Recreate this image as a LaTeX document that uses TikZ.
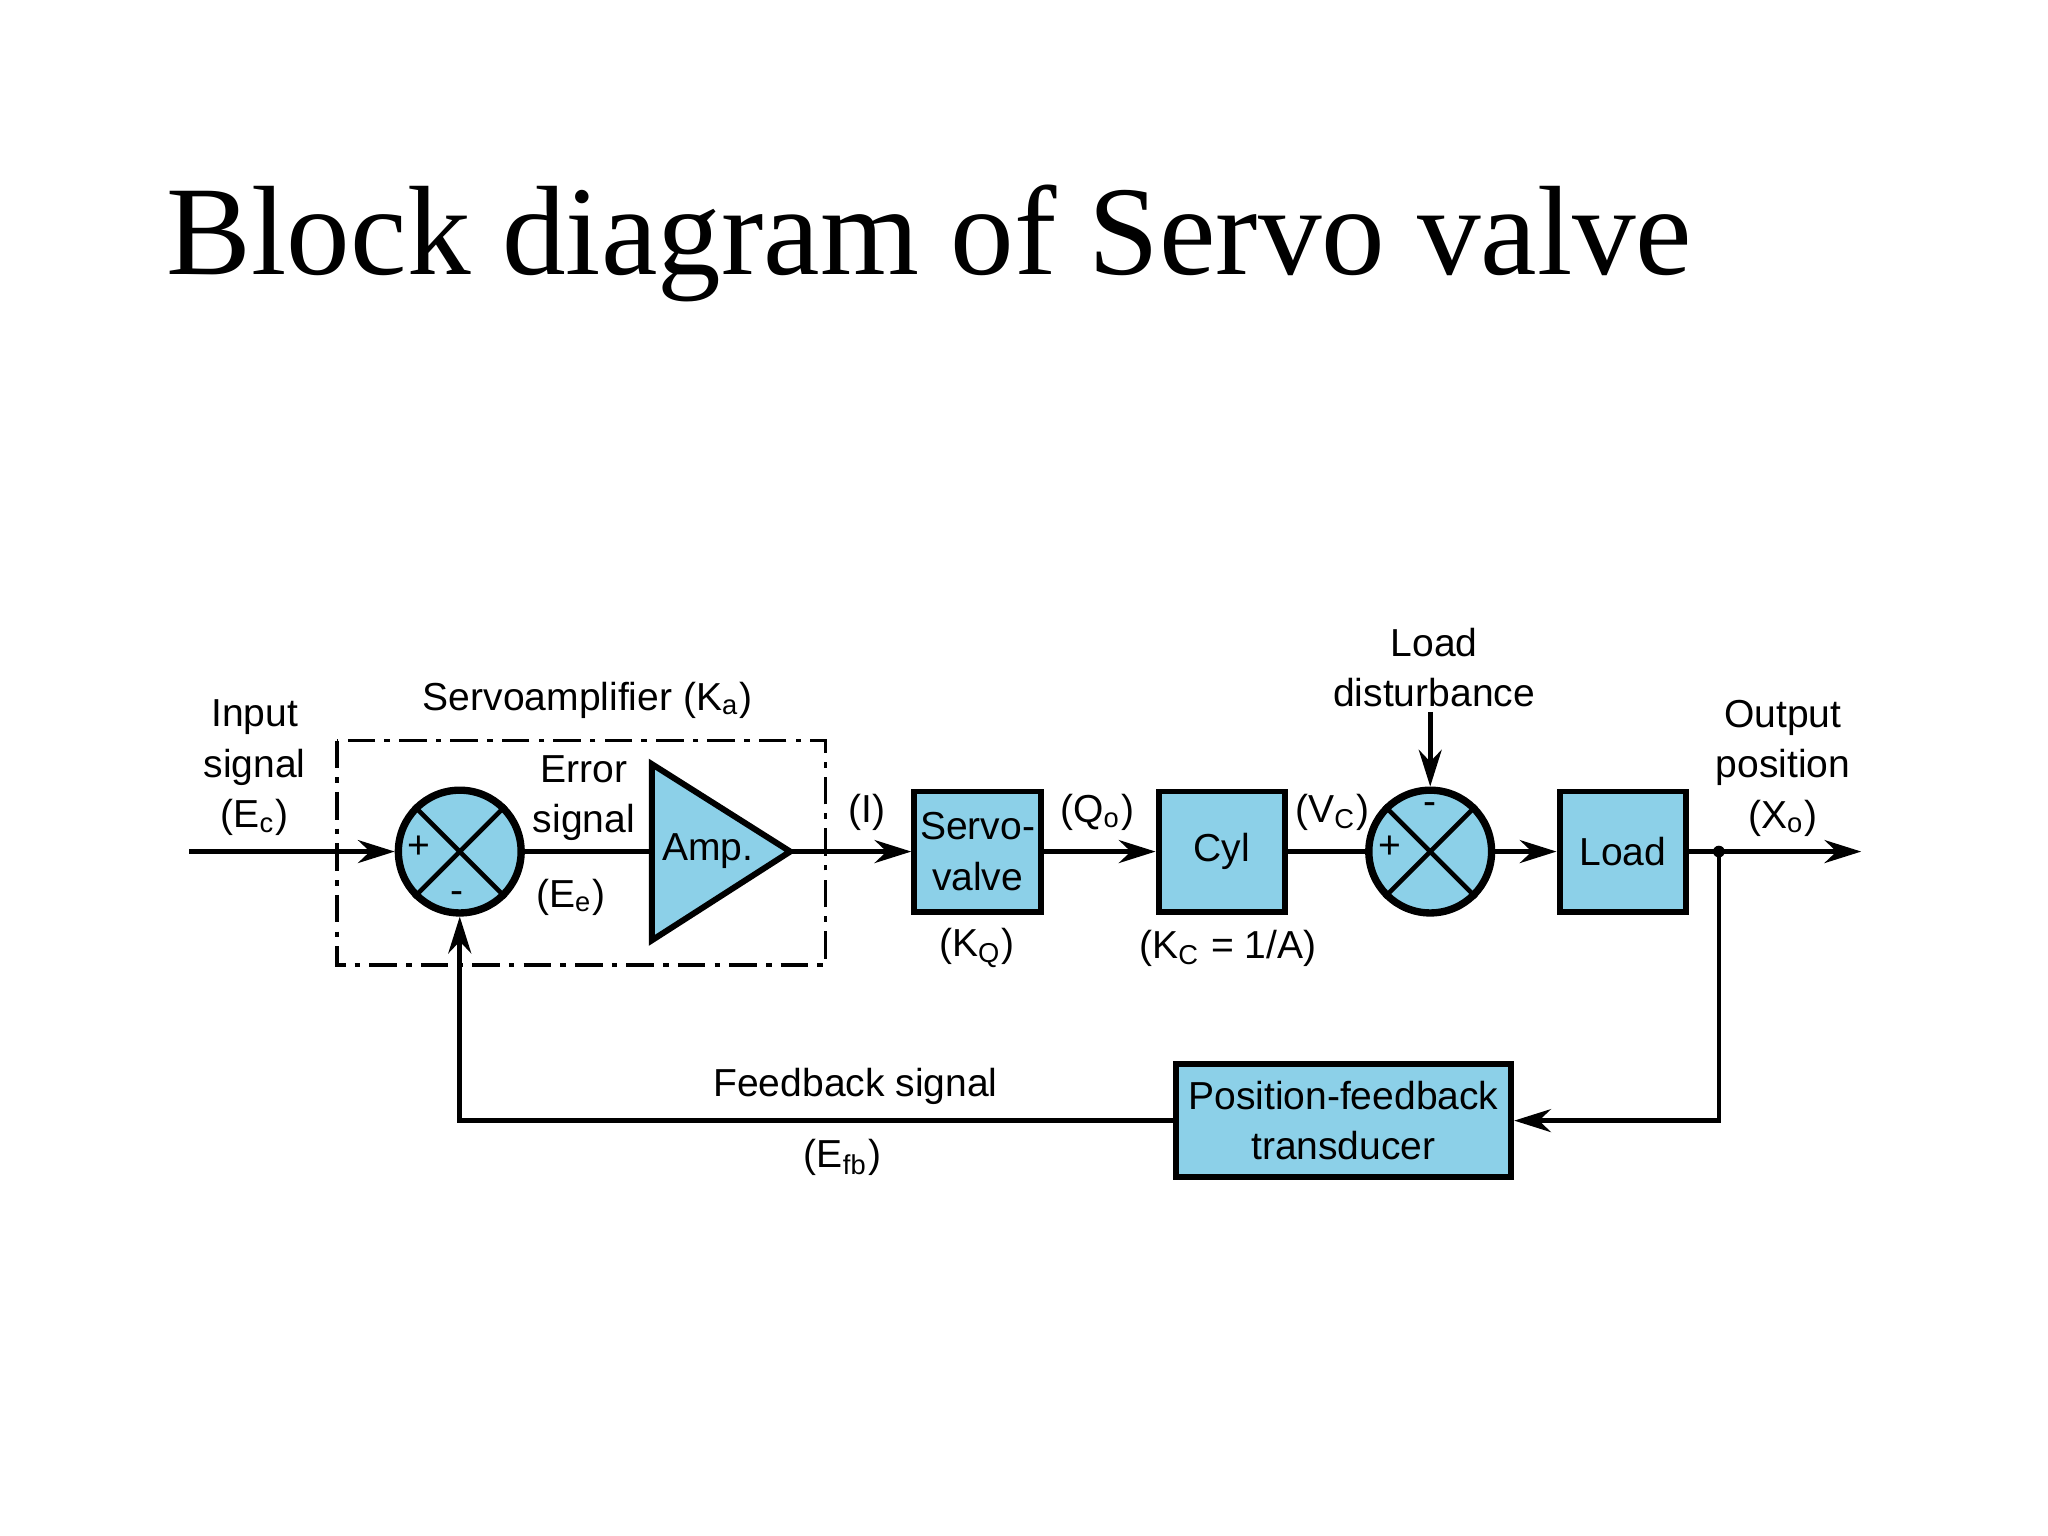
\documentclass[tikz,border=0pt]{standalone}
\usepackage{fontspec}
\setmainfont{Liberation Sans}
\newfontfamily\titlefont{Liberation Serif}
\usetikzlibrary{arrows.meta}
\definecolor{boxblue}{RGB}{140,208,232}
\tikzset{
  blk/.style={draw, line width=1.3pt, fill=boxblue, minimum width=0.97cm, minimum height=0.92cm, align=center, inner sep=1pt},
  sumj/.style={draw, circle, line width=1.6pt, fill=boxblue, minimum size=0.94cm, inner sep=0pt},
  sig/.style={line width=1pt, -{Stealth[length=8pt,width=5pt]}},
  lbl/.style={align=center, inner sep=1pt}
}
\begin{document}
\begin{tikzpicture}[font=\fontsize{8.5}{11}\selectfont]
\useasboundingbox (0,0) rectangle (15.68,11.76);
% title
\node[anchor=base west, inner sep=0pt, font=\titlefont\fontsize{27.7}{32}\selectfont] (title) at (1.27,9.66) {Block diagram of Servo valve};
% blocks
\coordinate (in) at (1.45,5.24);
\node[sumj] (s1) at (3.52,5.24) {};
\draw[line width=1pt] (s1.north west) -- (s1.south east) (s1.north east) -- (s1.south west);
\draw[line width=1.3pt, fill=boxblue] (4.99,5.91) -- (6.05,5.24) -- (4.99,4.56) -- cycle;
\coordinate (amp) at (6.05,5.24);
\node (ampt) at (5.42,5.24) {Amp.};
\node[blk] (sv) at (7.485,5.24) {Servo-\\valve};
\node[blk] (cyl) at (9.355,5.24) {Cyl};
\node[sumj] (s2) at (10.95,5.24) {};
\draw[line width=1pt] (s2.north west) -- (s2.south east) (s2.north east) -- (s2.south west);
\node[blk] (load) at (12.425,5.24) {Load};
\node[blk, minimum width=2.57cm, minimum height=0.87cm] (fb) at (10.285,3.18) {Position-feedback\\transducer};
\coordinate (out) at (14.25,5.24);
\coordinate (tap) at (13.16,5.24);
\coordinate (dist) at (10.95,6.31);
\fill (tap) circle (0.045);
% servoamplifier box
\draw[line width=0.8pt, dash pattern=on 6pt off 2pt on 1.2pt off 2pt] (2.58,6.09) rectangle (6.32,4.37);
% connectors
\draw[sig] (in) -- (s1);
\draw[line width=1pt] (s1) -- (4.99,5.24);
\draw[sig] (amp) -- (sv);
\draw[sig] (sv) -- (cyl);
\draw[line width=1pt] (cyl) -- (s2);
\draw[sig] (s2) -- (load);
\draw[sig] (load) -- (out);
\draw[sig] (dist) -- (s2);
\draw[sig] (tap) |- (fb);
\draw[sig] (fb) -| (s1);
% labels
\node[lbl] (lin) at (1.95,5.88) {Input\\signal\\(E\textsubscript{c})};
\node[lbl] (lsa) at (4.5,6.4) {Servoamplifier (K\textsubscript{a})};
\node[lbl] (lerr) at (4.47,5.65) {Error\\signal};
\node[lbl] (lee) at (4.37,4.89) {(E\textsubscript{e})};
\node at (3.21,5.27) {+};
\node at (3.5,4.89) {-};
\node at (10.64,5.27) {+};
\node at (10.95,5.57) {-};
\node (li) at (6.64,5.54) {(I)};
\node (lq) at (8.4,5.54) {(Q\textsubscript{o})};
\node (lv) at (10.2,5.54) {(V\textsubscript{C})};
\node (lkq) at (7.48,4.5) {(K\textsubscript{Q})};
\node (lkc) at (9.4,4.5) {(K\textsubscript{C} = 1/A)};
\node[lbl] (ld) at (10.98,6.65) {Load\\disturbance};
\node[lbl] (lout) at (13.65,5.88) {Output\\position\\(X\textsubscript{o})};
\node (lfb) at (6.55,3.44) {Feedback signal};
\node (lefb) at (6.45,2.9) {(E\textsubscript{fb})};
\end{tikzpicture}
\end{document}
